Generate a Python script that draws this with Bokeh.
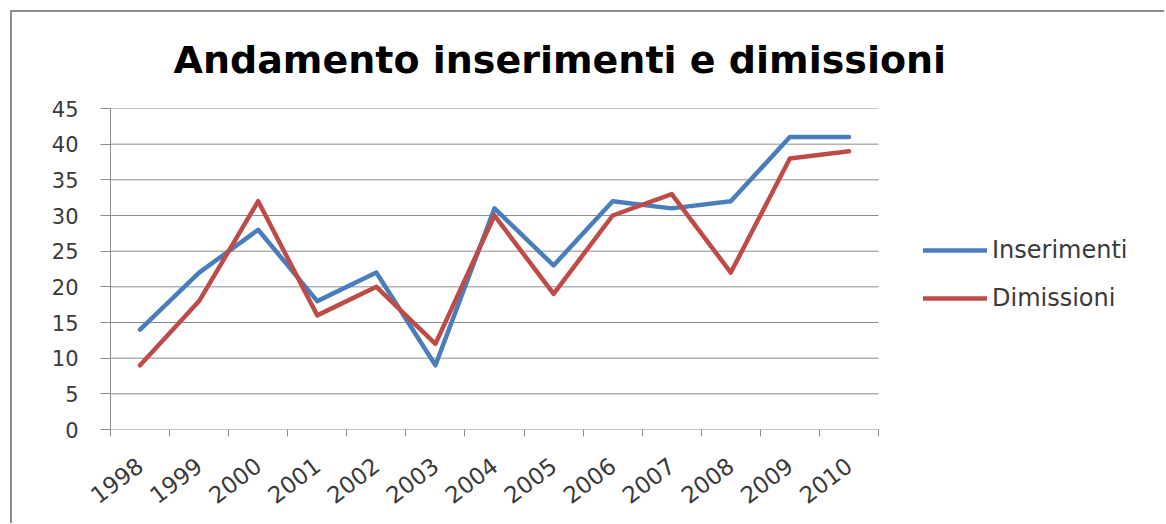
from bokeh.plotting import figure
from bokeh.models import (Range1d, FixedTicker, CustomJSTickFormatter, Legend,
                          LegendItem, ColumnDataSource, Title)
from bokeh.embed import file_html
from bokeh.resources import INLINE

# ---- data ----
years = ["1998", "1999", "2000", "2001", "2002", "2003", "2004",
         "2005", "2006", "2007", "2008", "2009", "2010"]
inserimenti = [14, 22, 28, 18, 22, 9, 31, 23, 32, 31, 32, 41, 41]
dimissioni = [9, 18, 32, 16, 20, 12, 30, 19, 30, 33, 22, 38, 39]
y_ticks = [0, 5, 10, 15, 20, 25, 30, 35, 40, 45]
title_text = "Andamento inserimenti e dimissioni"

n = len(years)
# category centers on a numeric axis (boundaries at integers, like Excel)
xpos = [i + 0.5 for i in range(n)]
src = ColumnDataSource(dict(x=xpos, ins=inserimenti, dim=dimissioni))
grid_src = ColumnDataSource(dict(x0=[0] * len(y_ticks), x1=[n] * len(y_ticks),
                                 y=y_ticks))

FONT = "DejaVu Sans"
GRAY = "#8c8c8c"
TXT = "#3a3a3a"

PLOT_W = 768      # pixel width of the category area
FRAME_W = 1054    # frame also holds the legend on the right
p = figure(frame_width=FRAME_W, frame_height=321,
           x_range=Range1d(0, n * FRAME_W / PLOT_W), y_range=Range1d(0, 45),
           output_backend="svg", toolbar_location=None,
           min_border_left=98, min_border_top=80,
           min_border_right=0, min_border_bottom=94,
           background_fill_color="white", border_fill_color="white")
p.outline_line_color = None
p.styles = {"border-top": "2px solid #8c8c8c", "border-left": "2px solid #8c8c8c",
            "margin-left": "10px", "margin-top": "10px"}

p.title = Title(text=title_text, align="left", offset=63, vertical_align="top",
                text_font=FONT, text_font_size="38px", text_font_style="bold",
                text_color="black", standoff=50)

# horizontal gridlines limited to the category area
p.segment(x0="x0", x1="x1", y0="y", y1="y", source=grid_src,
          line_color=GRAY, line_width=1)

r1 = p.line("x", "ins", source=src, line_color="#4A7EBB", line_width=4.5,
            line_join="round", line_cap="round")
r2 = p.line("x", "dim", source=src, line_color="#BE4B48", line_width=4.5,
            line_join="round", line_cap="round")

# x axis
xa = p.xaxis[0]
xa.ticker = FixedTicker(ticks=xpos, minor_ticks=list(range(n + 1)))
xa.formatter = CustomJSTickFormatter(args=dict(labels=years),
                                     code="return labels[Math.floor(tick)] || '';")
xa.major_tick_line_color = None
xa.major_tick_out = 7
xa.major_tick_in = 0
xa.minor_tick_out = 7
xa.minor_tick_in = 0
xa.minor_tick_line_color = GRAY
xa.axis_line_color = None
xa.major_label_orientation = 0.65
xa.major_label_standoff = 26
xa.major_label_text_font = FONT
xa.major_label_text_font_size = "23px"
xa.major_label_text_color = TXT

# y axis
ya = p.yaxis[0]
ya.ticker = FixedTicker(ticks=y_ticks)
ya.major_tick_out = 10
ya.major_tick_in = 0
ya.minor_tick_line_color = None
ya.major_tick_line_color = GRAY
ya.axis_line_color = GRAY
ya.major_label_standoff = 22
ya.major_label_text_font = FONT
ya.major_label_text_font_size = "21px"
ya.major_label_text_color = TXT

p.xgrid.visible = False
p.ygrid.visible = False

legend = Legend(items=[LegendItem(label="Inserimenti", renderers=[r1]),
                       LegendItem(label="Dimissioni", renderers=[r2])],
                location=(813, 117), margin=0, padding=10,
                glyph_width=64, glyph_height=26, label_height=26,
                label_standoff=5, spacing=20,
                label_text_font=FONT, label_text_font_size="24px",
                label_text_color=TXT,
                border_line_color=None, background_fill_alpha=0)
p.add_layout(legend, "center")

open("out.html", "w").write(file_html(p, INLINE))
